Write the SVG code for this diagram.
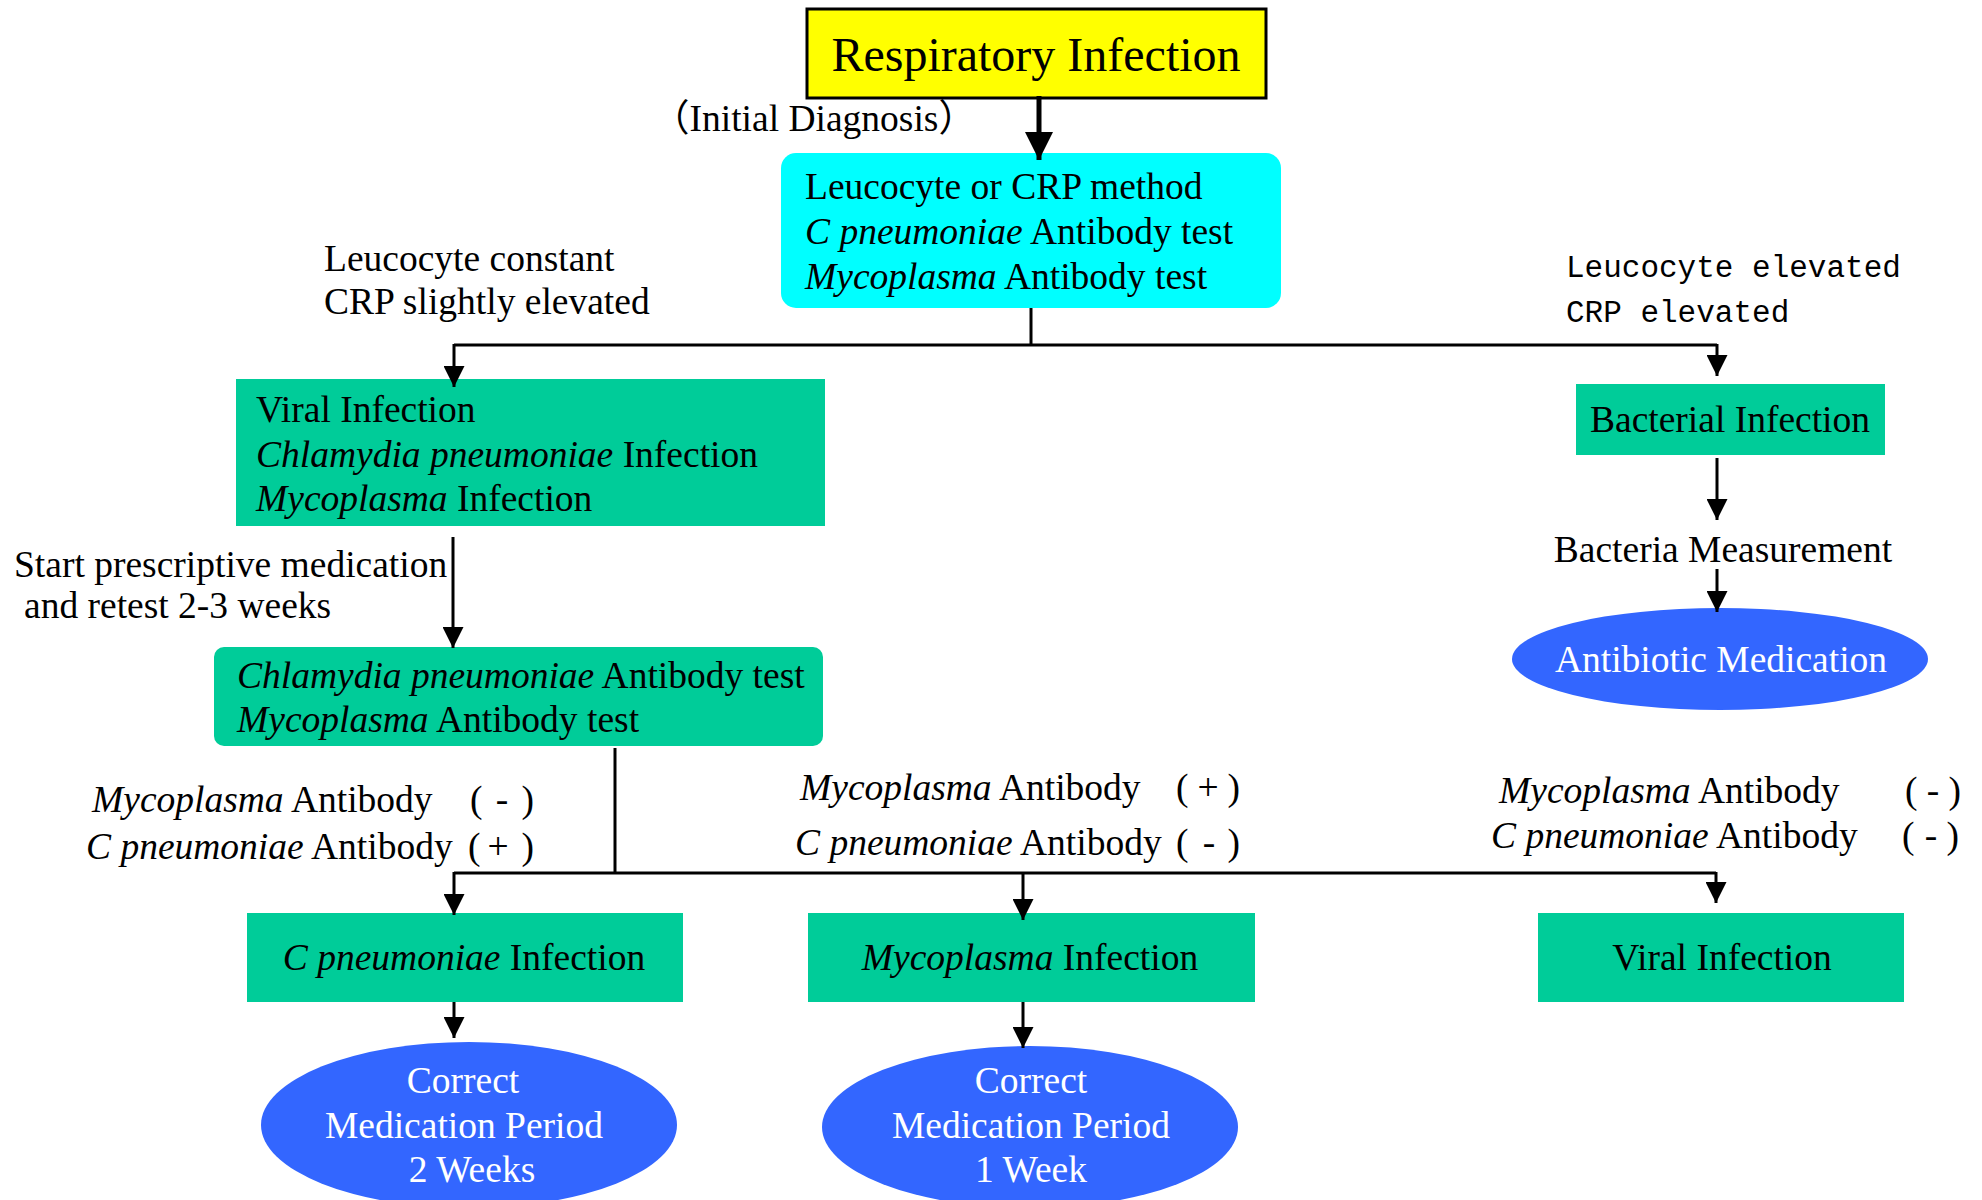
<svg xmlns="http://www.w3.org/2000/svg" width="1982" height="1200" viewBox="0 0 1982 1200">
<style>
text{font-family:"Liberation Serif","Times New Roman",serif;font-size:37.5px;fill:#000}
.i{font-style:italic}
.w{fill:#fff}
.c{text-anchor:middle}
.e{text-anchor:end}
.mono{font-family:"Liberation Mono","DejaVu Sans Mono",monospace;font-size:31px}
.green{fill:#00CC99}
.blue{fill:#3366FF}
.ln{stroke:#000;stroke-width:3;fill:none}
</style>
<defs>
<marker id="ah" viewBox="0 0 20 20" refX="20" refY="10" markerWidth="21" markerHeight="21" markerUnits="userSpaceOnUse" orient="auto">
<path d="M0,0 L20,10 L0,20 z" fill="#000"/>
</marker>
<marker id="ahb" viewBox="0 0 20 20" refX="20" refY="10" markerWidth="28" markerHeight="28" markerUnits="userSpaceOnUse" orient="auto">
<path d="M0,0 L20,10 L0,20 z" fill="#000"/>
</marker>
</defs>

<g id="n-respiratory">
<rect x="807" y="9" width="459" height="89" fill="#FFFF00" stroke="#000" stroke-width="3"/>
<text x="1036" y="71" class="c" style="font-size:48px">Respiratory Infection</text>
</g>

<g id="n-tests">
<rect x="781" y="153" width="500" height="155" rx="15" ry="15" fill="#00FFFF"/>
<text x="805" y="199">Leucocyte or CRP method</text>
<text x="805" y="244"><tspan class="i">C pneumoniae</tspan> Antibody test</text>
<text x="805" y="289"><tspan class="i">Mycoplasma</tspan> Antibody test</text>
</g>

<g id="n-viral-group">
<rect x="236" y="379" width="589" height="147" class="green"/>
<text x="256" y="422">Viral Infection</text>
<text x="256" y="467"><tspan class="i">Chlamydia pneumoniae</tspan> Infection</text>
<text x="256" y="511"><tspan class="i">Mycoplasma</tspan> Infection</text>
</g>

<g id="n-bacterial">
<rect x="1576" y="384" width="309" height="71" class="green"/>
<text x="1730" y="432" class="c">Bacterial Infection</text>
</g>

<g id="n-measurement">
<text x="1723" y="562" class="c">Bacteria Measurement</text>
</g>

<g id="n-antibiotic">
<ellipse cx="1720" cy="659" rx="208" ry="51" class="blue"/>
<text x="1721" y="672" class="c w">Antibiotic Medication</text>
</g>

<g id="n-antibody-test">
<rect x="214" y="647" width="609" height="99" rx="10" ry="10" class="green"/>
<text x="237" y="688"><tspan class="i">Chlamydia pneumoniae</tspan> Antibody test</text>
<text x="237" y="732"><tspan class="i">Mycoplasma</tspan> Antibody test</text>
</g>

<g id="n-cpneu">
<rect x="247" y="913" width="436" height="89" class="green"/>
<text x="464" y="970" class="c"><tspan class="i">C pneumoniae</tspan> Infection</text>
</g>

<g id="n-myco">
<rect x="808" y="913" width="447" height="89" class="green"/>
<text x="1030" y="970" class="c"><tspan class="i">Mycoplasma</tspan> Infection</text>
</g>

<g id="n-viral">
<rect x="1538" y="913" width="366" height="89" class="green"/>
<text x="1722" y="970" class="c">Viral Infection</text>
</g>

<g id="n-period2">
<ellipse cx="469" cy="1125" rx="208" ry="83" class="blue"/>
<text x="463" y="1093" class="c w">Correct</text>
<text x="464" y="1138" class="c w">Medication Period</text>
<text x="472" y="1182" class="c w">2 Weeks</text>
</g>

<g id="n-period1">
<ellipse cx="1030" cy="1127" rx="208" ry="81" class="blue"/>
<text x="1031" y="1093" class="c w">Correct</text>
<text x="1031" y="1138" class="c w">Medication Period</text>
<text x="1031" y="1182" class="c w">1 Week</text>
</g>

<g id="connectors">
<line x1="1039" y1="96" x2="1039" y2="160" stroke="#000" stroke-width="5" marker-end="url(#ahb)"/>
<polyline class="ln" points="1031,308 1031,345"/>
<polyline class="ln" points="454,345 1717,345"/>
<line class="ln" x1="454" y1="344" x2="454" y2="387" marker-end="url(#ah)"/>
<line class="ln" x1="1717" y1="344" x2="1717" y2="376" marker-end="url(#ah)"/>
<line class="ln" x1="453" y1="537" x2="453" y2="648" marker-end="url(#ah)"/>
<line class="ln" x1="1717" y1="458" x2="1717" y2="520" marker-end="url(#ah)"/>
<line class="ln" x1="1717" y1="569" x2="1717" y2="612" marker-end="url(#ah)"/>
<polyline class="ln" points="615,748 615,873"/>
<polyline class="ln" points="454,873 1716,873"/>
<line class="ln" x1="454" y1="872" x2="454" y2="915" marker-end="url(#ah)"/>
<line class="ln" x1="1023" y1="872" x2="1023" y2="920" marker-end="url(#ah)"/>
<line class="ln" x1="1716" y1="872" x2="1716" y2="903" marker-end="url(#ah)"/>
<line class="ln" x1="454" y1="1002" x2="454" y2="1038" marker-end="url(#ah)"/>
<line class="ln" x1="1023" y1="1002" x2="1023" y2="1048" marker-end="url(#ah)"/>
</g>

<g id="labels">
<text x="652" y="131" style="font-family:'Liberation Serif','Noto Sans CJK SC',serif">（Initial Diagnosis）</text>
<text x="324" y="271">Leucocyte constant</text>
<text x="324" y="314">CRP slightly elevated</text>
<text x="1566" y="277" class="mono">Leucocyte elevated</text>
<text x="1566" y="322" class="mono">CRP elevated</text>
<text x="14" y="577">Start prescriptive medication</text>
<text x="24" y="618">and retest 2-3 weeks</text>

<text x="92" y="812"><tspan class="i">Mycoplasma</tspan> Antibody</text>
<text x="470" y="812">(</text><text x="502" y="812" class="c">-</text><text x="534" y="812" class="e">)</text>
<text x="86" y="859"><tspan class="i">C pneumoniae</tspan> Antibody</text>
<text x="468" y="859">(</text><text x="498" y="859" class="c">+</text><text x="534" y="859" class="e">)</text>

<text x="800" y="800"><tspan class="i">Mycoplasma</tspan> Antibody</text>
<text x="1176" y="800">(</text><text x="1208" y="800" class="c">+</text><text x="1240" y="800" class="e">)</text>
<text x="795" y="855"><tspan class="i">C pneumoniae</tspan> Antibody</text>
<text x="1176" y="855">(</text><text x="1209" y="855" class="c">-</text><text x="1240" y="855" class="e">)</text>

<text x="1499" y="803"><tspan class="i">Mycoplasma</tspan> Antibody</text>
<text x="1905" y="803">(</text><text x="1933" y="803" class="c">-</text><text x="1961" y="803" class="e">)</text>
<text x="1491" y="848"><tspan class="i">C pneumoniae</tspan> Antibody</text>
<text x="1902" y="848">(</text><text x="1931" y="848" class="c">-</text><text x="1959" y="848" class="e">)</text>
</g>
</svg>
